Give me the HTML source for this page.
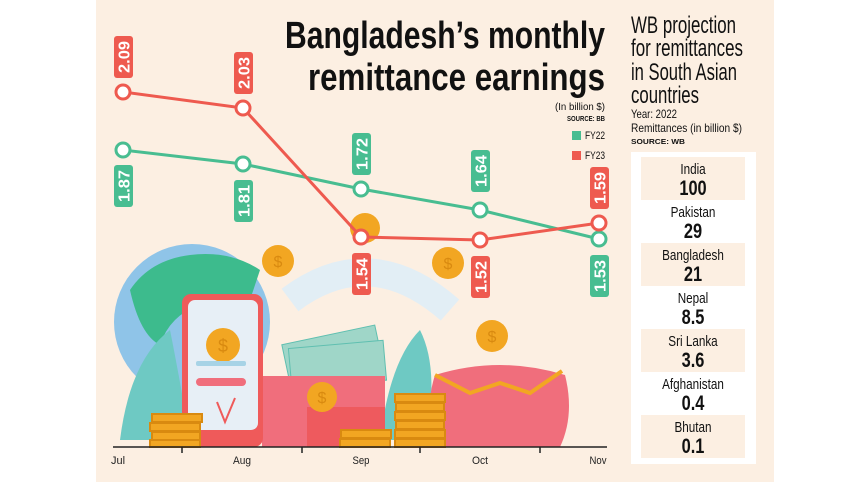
<!DOCTYPE html>
<html><head><meta charset="utf-8"><style>
body{margin:0;width:857px;height:482px;overflow:hidden;background:#fff}
svg{display:block}
.n{font-family:"Liberation Sans",sans-serif}
</style></head><body>
<svg width="857" height="482" viewBox="0 0 857 482" xmlns="http://www.w3.org/2000/svg" class="n">
<rect x="96" y="0" width="678" height="482" fill="#fcefe2"/>
<!-- illustration -->
<circle cx="192" cy="322" r="78" fill="#8fc4e8"/>
<path d="M130 290 q20-30 60-35 q40-5 70 15 l-10 30 q-30-10-50 5 q-30 10-40 40 q-20-10-30-55z" fill="#3dbb8d"/>
<path d="M290 300 q80-60 160 10" stroke="#e2eef5" stroke-width="28" fill="none"/>
<path d="M120 440 q10-80 50-110 q10 50 20 110z" fill="#6ec9c3"/>
<path d="M380 440 q10-80 40-110 q20 40 5 110z" fill="#6ec9c3"/>
<g fill="#9fd6c8" stroke="#5fbfb0"><rect x="285" y="335" width="95" height="45" transform="rotate(-12 330 355)"/><rect x="290" y="345" width="95" height="40" transform="rotate(-5 330 365)"/></g>
<rect x="262" y="376" width="123" height="71" fill="#f06e7c"/>
<rect x="307" y="407" width="78" height="40" fill="#ee5a5e"/>
<rect x="182" y="294" width="81" height="153" rx="9" fill="#ef5a5a"/>
<rect x="188" y="300" width="70" height="130" rx="7" fill="#e7eff6"/>
<circle cx="223" cy="345" r="17" fill="#f2a622"/><text x="223" y="352" font-size="18" text-anchor="middle" fill="#d98a10">$</text>
<rect x="196" y="361" width="50" height="5" rx="2" fill="#a7d3e6"/>
<rect x="196" y="378" width="50" height="8" rx="4" fill="#f06e7c"/>
<path d="M217 402 l8 20 l10-24" stroke="#ef5a5a" stroke-width="2" fill="none"/>
<path d="M435 375 q65-20 130 0 q10 40-5 72 h-122 q-15-35-3-72z" fill="#f06e7c"/>
<path d="M435 375 l35 18 l30-10 l30 10 l32-22" stroke="#f2a622" stroke-width="4" fill="none"/>
<g fill="#f2a622" stroke="#d98a10" stroke-width="2">
<rect x="152" y="414" width="50" height="8"/><rect x="150" y="423" width="50" height="8"/><rect x="152" y="432" width="48" height="8"/><rect x="150" y="440" width="50" height="7"/>
<rect x="341" y="430" width="50" height="8"/><rect x="340" y="439" width="50" height="8"/>
<rect x="395" y="394" width="50" height="8"/><rect x="396" y="403" width="48" height="8"/><rect x="395" y="412" width="50" height="8"/><rect x="396" y="421" width="48" height="8"/><rect x="395" y="430" width="50" height="8"/><rect x="395" y="439" width="50" height="8"/>
</g>
<g fill="#f2a622"><circle cx="278" cy="261" r="16"/><circle cx="448" cy="263" r="16"/><circle cx="492" cy="336" r="16"/><circle cx="322" cy="397" r="15"/><circle cx="365" cy="228" r="15"/></g>
<g font-size="16" text-anchor="middle" fill="#d98a10"><text x="278" y="267">$</text><text x="448" y="269">$</text><text x="492" y="342">$</text><text x="322" y="403">$</text></g>
<!-- axis -->
<line x1="113" y1="447" x2="607" y2="447" stroke="#222" stroke-width="1.5"/>
<g stroke="#222" stroke-width="1.5"><line x1="182" y1="447" x2="182" y2="453"/><line x1="302" y1="447" x2="302" y2="453"/><line x1="420" y1="447" x2="420" y2="453"/><line x1="540" y1="447" x2="540" y2="453"/></g>
<g font-size="11" text-anchor="middle" fill="#222"><text x="118" y="464" textLength="14" lengthAdjust="spacingAndGlyphs">Jul</text><text x="242" y="464" textLength="18" lengthAdjust="spacingAndGlyphs">Aug</text><text x="361" y="464" textLength="17" lengthAdjust="spacingAndGlyphs">Sep</text><text x="480" y="464" textLength="16" lengthAdjust="spacingAndGlyphs">Oct</text><text x="598" y="464" textLength="17" lengthAdjust="spacingAndGlyphs">Nov</text></g>
<!-- lines -->
<polyline points="123,150 243,164 361,189 480,210 599,239" fill="none" stroke="#48bd91" stroke-width="3"/>
<polyline points="123,92 243,108 361,237 480,240 599,223" fill="none" stroke="#ee5a4f" stroke-width="3"/>
<g fill="#fff" stroke-width="3">
<g stroke="#48bd91"><circle cx="123" cy="150" r="7"/><circle cx="243" cy="164" r="7"/><circle cx="361" cy="189" r="7"/><circle cx="480" cy="210" r="7"/><circle cx="599" cy="239" r="7"/></g>
<g stroke="#ee5a4f"><circle cx="123" cy="92" r="7"/><circle cx="243" cy="108" r="7"/><circle cx="361" cy="237" r="7"/><circle cx="480" cy="240" r="7"/><circle cx="599" cy="223" r="7"/></g>
</g>
<!-- labels -->
<g font-size="16" font-weight="bold" fill="#fff" text-anchor="middle">
<g fill="#ee5a4f"><rect x="114" y="36" width="19" height="42" rx="3"/><rect x="234" y="52" width="19" height="42" rx="3"/><rect x="352" y="253" width="19" height="42" rx="3"/><rect x="471" y="256" width="19" height="42" rx="3"/><rect x="590" y="167" width="19" height="42" rx="3"/></g>
<g fill="#48bd91"><rect x="114" y="165" width="19" height="42" rx="3"/><rect x="234" y="180" width="19" height="42" rx="3"/><rect x="352" y="133" width="19" height="42" rx="3"/><rect x="471" y="150" width="19" height="42" rx="3"/><rect x="590" y="255" width="19" height="42" rx="3"/></g>
<text transform="translate(129.5 57) rotate(-90)" textLength="32" lengthAdjust="spacingAndGlyphs">2.09</text>
<text transform="translate(249.5 73) rotate(-90)" textLength="32" lengthAdjust="spacingAndGlyphs">2.03</text>
<text transform="translate(367.5 274) rotate(-90)" textLength="32" lengthAdjust="spacingAndGlyphs">1.54</text>
<text transform="translate(486.5 277) rotate(-90)" textLength="32" lengthAdjust="spacingAndGlyphs">1.52</text>
<text transform="translate(605.5 188) rotate(-90)" textLength="32" lengthAdjust="spacingAndGlyphs">1.59</text>
<text transform="translate(129.5 186) rotate(-90)" textLength="32" lengthAdjust="spacingAndGlyphs">1.87</text>
<text transform="translate(249.5 201) rotate(-90)" textLength="32" lengthAdjust="spacingAndGlyphs">1.81</text>
<text transform="translate(367.5 154) rotate(-90)" textLength="32" lengthAdjust="spacingAndGlyphs">1.72</text>
<text transform="translate(486.5 171) rotate(-90)" textLength="32" lengthAdjust="spacingAndGlyphs">1.64</text>
<text transform="translate(605.5 276) rotate(-90)" textLength="32" lengthAdjust="spacingAndGlyphs">1.53</text>
</g>
<!-- title -->
<g fill="#111">
<text x="285" y="48" font-size="38" font-weight="bold" textLength="320" lengthAdjust="spacingAndGlyphs">Bangladesh’s monthly</text>
<text x="308" y="90" font-size="38" font-weight="bold" textLength="297" lengthAdjust="spacingAndGlyphs">remittance earnings</text>
<text x="555" y="110" font-size="10" textLength="50" lengthAdjust="spacingAndGlyphs">(In billion $)</text>
<text x="567" y="121" font-size="7" font-weight="bold" textLength="38" lengthAdjust="spacingAndGlyphs">SOURCE: BB</text>
<text x="585" y="139" font-size="11" textLength="20" lengthAdjust="spacingAndGlyphs">FY22</text>
<text x="585" y="159" font-size="11" textLength="20" lengthAdjust="spacingAndGlyphs">FY23</text>
</g>
<rect x="572" y="131" width="9" height="9" fill="#48bd91"/>
<rect x="572" y="151" width="9" height="9" fill="#ee5a4f"/>
<!-- right panel -->
<g fill="#111" font-size="24">
<text x="631" y="33" textLength="105" lengthAdjust="spacingAndGlyphs">WB projection</text>
<text x="631" y="56" textLength="112" lengthAdjust="spacingAndGlyphs">for remittances</text>
<text x="631" y="80" textLength="106" lengthAdjust="spacingAndGlyphs">in South Asian</text>
<text x="631" y="103" textLength="68" lengthAdjust="spacingAndGlyphs">countries</text>
<text x="631" y="118" font-size="12" textLength="46" lengthAdjust="spacingAndGlyphs">Year: 2022</text>
<text x="631" y="132" font-size="12" textLength="111" lengthAdjust="spacingAndGlyphs">Remittances (in billion $)</text>
<text x="631" y="144" font-size="7" font-weight="bold" textLength="54" lengthAdjust="spacingAndGlyphs">SOURCE: WB</text>
</g>
<rect x="631" y="152" width="125" height="312" fill="#fff"/>
<g fill="#fcefe2"><rect x="641" y="157" width="104" height="43"/><rect x="641" y="243" width="104" height="43"/><rect x="641" y="329" width="104" height="43"/><rect x="641" y="415" width="104" height="43"/></g>
<g transform="translate(693 0) scale(0.78 1)" text-anchor="middle" fill="#111">
<g font-size="15"><text x="0" y="174">India</text><text x="0" y="217">Pakistan</text><text x="0" y="260">Bangladesh</text><text x="0" y="303">Nepal</text><text x="0" y="346">Sri Lanka</text><text x="0" y="389">Afghanistan</text><text x="0" y="432">Bhutan</text></g>
<g font-size="21" font-weight="bold"><text x="0" y="195">100</text><text x="0" y="238">29</text><text x="0" y="281">21</text><text x="0" y="324">8.5</text><text x="0" y="367">3.6</text><text x="0" y="410">0.4</text><text x="0" y="453">0.1</text></g>
</g>
</svg>
</body></html>
